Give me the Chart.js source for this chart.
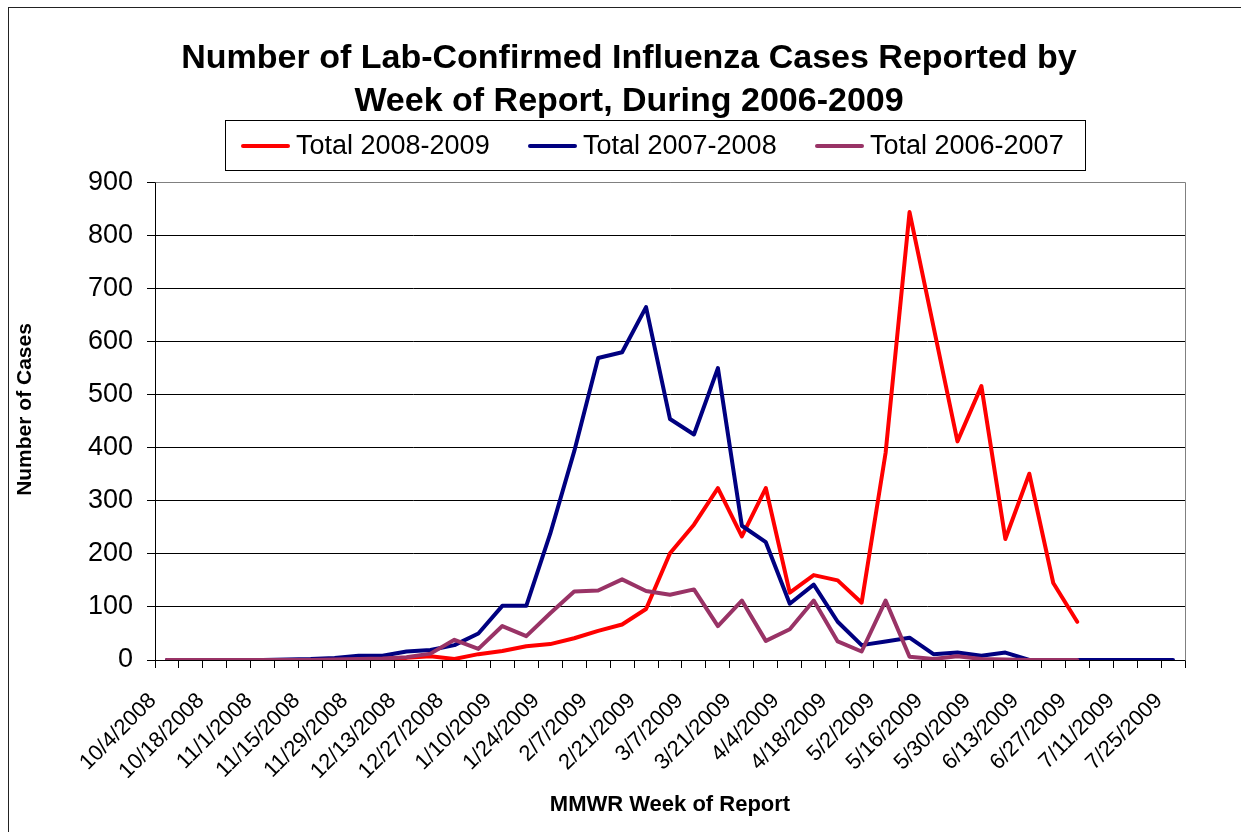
<!DOCTYPE html>
<html>
<head>
<meta charset="utf-8">
<title>Lab-Confirmed Influenza Cases</title>
<script src="https://cdn.jsdelivr.net/npm/chart.js@4.4.1/dist/chart.umd.min.js"></script>
<style>
  html, body { margin: 0; padding: 0; background: #fff; }
</style>
</head>
<body>
<canvas id="fluChart" width="1241" height="832"></canvas>
<script>
// MMWR report weeks (x axis categories)
const weeks = [
    '10/4/2008', '10/11/2008', '10/18/2008', '10/25/2008', '11/1/2008', '11/8/2008',
    '11/15/2008', '11/22/2008', '11/29/2008', '12/6/2008', '12/13/2008', '12/20/2008',
    '12/27/2008', '1/3/2009', '1/10/2009', '1/17/2009', '1/24/2009', '1/31/2009',
    '2/7/2009', '2/14/2009', '2/21/2009', '2/28/2009', '3/7/2009', '3/14/2009',
    '3/21/2009', '3/28/2009', '4/4/2009', '4/11/2009', '4/18/2009', '4/25/2009',
    '5/2/2009', '5/9/2009', '5/16/2009', '5/23/2009', '5/30/2009', '6/6/2009',
    '6/13/2009', '6/20/2009', '6/27/2009', '7/4/2009', '7/11/2009', '7/18/2009',
    '7/25/2009'
];

// Cases per week
const total2008_2009 = [
    0, 0, 0, 0, 0, 0, 0, 1, 2, 3, 4, 7, 2, 11, 17, 26, 30, 41, 55, 67, 96,
    201, 255, 324, 233, 324, 127, 160, 150, 108, 390, 844, 628, 412, 516, 228, 351, 145, 72,
    null, null, null, null
];
const total2007_2008 = [
    0, 0, 0, 0, 0, 1, 2, 4, 8, 8, 16, 19, 28, 50, 102, 102, 238, 393, 569, 580, 665,
    454, 425, 550, 253, 222, 106, 142, 72, 28, 35, 42, 11, 14, 8, 14, 0, 0, 0,
    0, 0, 0, 0
];
const total2006_2007 = [
    0, 0, 0, 0, 0, 0, 0, 1, 2, 3, 5, 12, 38, 21, 64, 45, 88, 129, 131, 152, 130,
    123, 133, 64, 112, 36, 58, 112, 35, 16, 112, 6, 2, 7, 2, 1, 0, 0, 0,
    null, null, null, null
];

const seriesNames = ['Total 2008-2009', 'Total 2007-2008', 'Total 2006-2007'];
const seriesColors = ['#FF0000', '#000080', '#993366'];

const FONT = 'Arial, "Liberation Sans", sans-serif';
Chart.defaults.font.family = FONT;
Chart.defaults.color = '#000';

// Outer frame, plot frame and the boxed legend
const decorations = {
    id: 'decorations',
    afterLayout(chart) {
        // centre the title over the whole chart object, like the original
        if (chart.titleBlock) {
            chart.titleBlock.left = 17;
            chart.titleBlock.right = 1241;
        }
    },
    afterDraw(chart) {
        const ctx = chart.ctx;
        const area = chart.chartArea;
        ctx.save();

        // outer border
        ctx.strokeStyle = '#222';
        ctx.lineWidth = 1;
        ctx.strokeRect(8.5, 7.5, 1400, 1000);

        // grey plot frame (top and right)
        ctx.strokeStyle = '#808080';
        ctx.beginPath();
        ctx.moveTo(Math.round(area.left) + 0.5, Math.round(area.top) + 0.5);
        ctx.lineTo(Math.round(area.right) + 0.5, Math.round(area.top) + 0.5);
        ctx.lineTo(Math.round(area.right) + 0.5, Math.round(area.bottom) + 0.5);
        ctx.stroke();

        // legend box
        ctx.strokeStyle = '#000';
        ctx.strokeRect(225.5, 120.5, 860, 50);
        ctx.font = '27px ' + FONT;
        ctx.textBaseline = 'middle';
        ctx.textAlign = 'left';
        chart.data.datasets.forEach((ds, i) => {
            const x = 243 + i * 287;
            const y = 146;
            ctx.strokeStyle = ds.borderColor;
            ctx.lineWidth = 4;
            ctx.lineCap = 'round';
            ctx.beginPath();
            ctx.moveTo(x, y);
            ctx.lineTo(x + 45, y);
            ctx.stroke();
            ctx.fillStyle = '#000';
            ctx.fillText(ds.label, x + 53, y + 1);
        });
        ctx.restore();
    }
};

function makeDataset(idx, values, order) {
    return {
        label: seriesNames[idx],
        data: values,
        borderColor: seriesColors[idx],
        backgroundColor: seriesColors[idx],
        borderWidth: 4,
        borderCapStyle: 'round',
        borderJoinStyle: 'round',
        pointRadius: 0,
        pointHoverRadius: 0,
        tension: 0,
        fill: false,
        order: order
    };
}

const ctx = document.getElementById('fluChart').getContext('2d');
new Chart(ctx, {
    type: 'line',
    data: {
        labels: weeks,
        datasets: [
            makeDataset(0, total2008_2009, 3),
            makeDataset(1, total2007_2008, 2),
            makeDataset(2, total2006_2007, 1)
        ]
    },
    options: {
        responsive: false,
        animation: false,
        devicePixelRatio: 1,
        layout: { padding: { left: 9, right: 56, top: 0, bottom: 0 } },
        plugins: {
            legend: { display: false },
            tooltip: { enabled: false },
            title: {
                display: true,
                text: ['Number of Lab-Confirmed Influenza Cases Reported by', 'Week of Report, During 2006-2009'],
                font: { size: 34, weight: 'bold', lineHeight: 1.27 },
                color: '#000',
                padding: { top: 37, bottom: 59 }
            }
        },
        scales: {
            x: {
                offset: true,
                ticks: {
                    autoSkip: false,
                    minRotation: 45,
                    maxRotation: 45,
                    padding: 20,
                    labelOffset: -14,
                    font: { size: 22 },
                    color: '#000',
                    callback: function (value, index) {
                        return index % 2 === 0 ? this.getLabelForValue(value) : '';
                    }
                },
                grid: { offset: true, drawOnChartArea: false, drawTicks: true, tickLength: 8, color: '#000' },
                border: { color: '#000', width: 1 },
                title: {
                    display: true,
                    text: 'MMWR Week of Report',
                    font: { size: 22, weight: 'bold' },
                    color: '#000',
                    padding: { top: 4, bottom: 14 }
                },
                afterFit: s => { s.height = 172; }
            },
            y: {
                min: 0,
                max: 900,
                ticks: { stepSize: 100, padding: 14, font: { size: 27 }, color: '#000' },
                grid: {
                    color: c => (c.tick && c.tick.value === 900 ? '#808080' : '#000'),
                    tickColor: '#000',
                    tickLength: 8,
                    lineWidth: 1
                },
                border: { color: '#000', width: 1 },
                title: {
                    display: true,
                    text: '    Number of Cases',
                    font: { size: 21, weight: 'bold' },
                    color: '#000',
                    padding: { top: 4, bottom: 0 }
                },
                afterFit: s => { s.width = 146; }
            }
        }
    },
    plugins: [decorations]
});
</script>
</body>
</html>
